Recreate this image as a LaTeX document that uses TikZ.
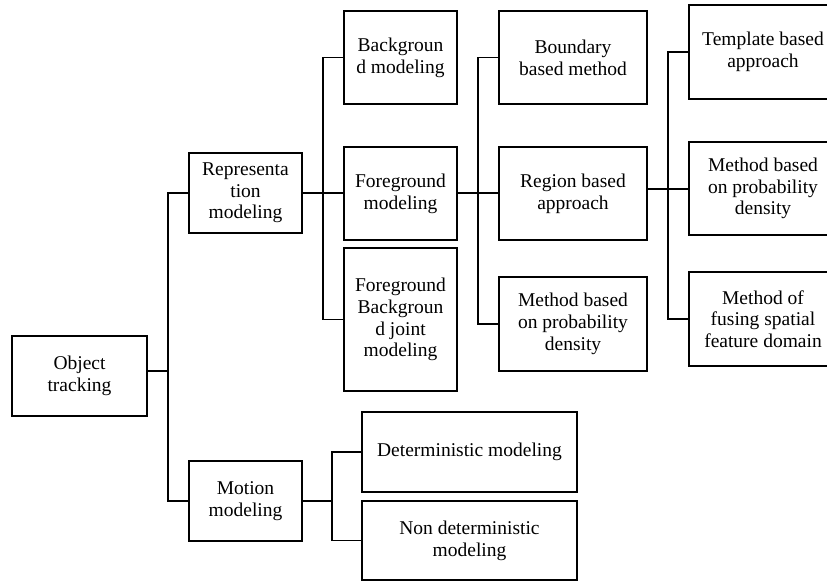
\documentclass[tikz,border=0pt]{standalone}
\usepackage{fontspec}
\setmainfont{Liberation Serif}
\begin{document}
\begin{tikzpicture}[x=1pt,y=-1pt,
  box/.style={draw, line width=1.8pt, align=center, inner sep=0pt,
    font=\fontsize{19.5}{21.7}\selectfont},
  link/.style={line width=1.8pt}]
\useasboundingbox (0,0) rectangle (827,581);
\clip (0,0) rectangle (827,581);

% root
\node[box, minimum width=135, minimum height=80] (obj) at (79.5,376) {Object\\tracking};

% second level
\node[box, minimum width=113, minimum height=80] (rep) at (245.5,193) {Representa\\tion\\modeling};
\node[box, minimum width=113, minimum height=80] (mot) at (245.5,501) {Motion\\modeling};

% representation branches
\node[box, minimum width=113, minimum height=93] (bg) at (400.5,57.5) {Backgroun\\d modeling};
\node[box, minimum width=113, minimum height=93] (fg) at (400.5,193.5) {Foreground\\modeling};
\node[box, minimum width=113, minimum height=143] (joint) at (400.5,319.5) {Foreground\\Backgroun\\d joint\\modeling};

% foreground branches
\node[box, minimum width=148, minimum height=93] (bnd) at (573,57.5) {Boundary\\based method};
\node[box, minimum width=148, minimum height=93] (reg) at (573,193.5) {Region based\\approach};
\node[box, minimum width=148, minimum height=94] (pdm) at (573,324) {Method based\\on probability\\density};

% region branches
\node[box, minimum width=148, minimum height=94] (tpl) at (763,52) {Template based\\approach};
\node[box, minimum width=148, minimum height=93] (pdr) at (763,188.5) {Method based\\on probability\\density};
\node[box, minimum width=148, minimum height=94] (fus) at (763,319) {Method of\\fusing spatial\\feature domain};

% motion branches
\node[box, minimum width=215, minimum height=80] (det) at (469.5,452) {Deterministic modeling};
\node[box, minimum width=215, minimum height=79] (non) at (469.5,540.5) {Non deterministic\\modeling};

% junction points of the tree
\coordinate (j1) at (168,371);
\coordinate (j2) at (323,193);
\coordinate (j3) at (478,193);
\coordinate (j4) at (668,189);
\coordinate (j5) at (332,501);

% connectors
\draw[link] (obj.east |- j1) -- (j1);
\draw[link] (rep.west) -| (j1) |- (mot.west);

\draw[link] (rep.east |- j2) -- (fg.west |- j2);
\draw[link] (bg.west) -| (j2) |- (joint.west);

\draw[link] (fg.east |- j3) -- (reg.west |- j3);
\draw[link] (bnd.west) -| (j3) |- (pdm.west);

\draw[link] (reg.east |- j4) -- (pdr.west |- j4);
\draw[link] (tpl.west) -| (j4) |- (fus.west);

\draw[link] (mot.east) -- (j5);
\draw[link] (det.west) -| (j5) |- (non.west);
\end{tikzpicture}
\end{document}
